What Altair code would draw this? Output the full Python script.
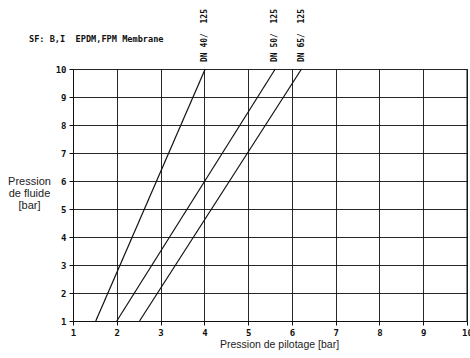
import altair as alt
import pandas as pd

NB = "\u00a0"
series = ["DN 40/  125", "DN 50/  125", "DN 65/  125"]
pilot_start = [1.52, 2.0, 2.52]
pilot_end = [4.02, 5.62, 6.22]
fluid_start = [1, 1, 1]
fluid_end = [10, 10, 10]
ticks = [1, 2, 3, 4, 5, 6, 7, 8, 9, 10]
title_text = "SF: B,I  EPDM,FPM Membrane"

rows = []
for s, x0, x1, y0, y1 in zip(series, pilot_start, pilot_end, fluid_start, fluid_end):
    rows.append({"serie": s, "pilot": x0, "fluid": y0})
    rows.append({"serie": s, "pilot": x1, "fluid": y1})
df = pd.DataFrame(rows)
lab = pd.DataFrame({"serie": [s.replace(" ", NB) for s in series],
                    "pilot": pilot_end, "fluid": fluid_end})

mono = "DejaVu Sans Mono"
sans = "Liberation Sans"

xscale = alt.Scale(domain=[1, 10], nice=False, zero=False)
yscale = alt.Scale(domain=[1, 10], nice=False, zero=False)

common = dict(values=ticks, tickCount=10, grid=True, labelOverlap=False,
              labelFont=mono, labelFontWeight="bold", labelFontSize=9, labelColor="#111",
              labelPadding=3, tickSize=4, tickColor="#111", domainColor="#111",
              gridColor="#111", gridOpacity=0.9, gridWidth=1,
              titleFont=sans, titleFontWeight="normal", titleColor="#222")

xaxis = alt.Axis(title="Pression de pilotage [bar]", titleFontSize=10.5,
                 titleX=206, titleY=23, titleAlign="center", titleBaseline="middle",
                 labelFlush=False, **common)
yaxis = alt.Axis(title=["Pression", "de fluide", "[bar]"], titleFontSize=11,
                 titleAngle=0, titleAlign="center", titleBaseline="top",
                 titleX=-44, titleY=106, titleLineHeight=12, **common)

base = alt.Chart(df)
lines = base.mark_line(color="#111", strokeWidth=1.2).encode(
    x=alt.X("pilot:Q", scale=xscale, axis=xaxis),
    y=alt.Y("fluid:Q", scale=yscale, axis=yaxis),
    detail="serie:N",
)
labels = alt.Chart(lab).mark_text(angle=270, align="left", baseline="middle", dx=7,
                                  font=mono, fontWeight="bold", fontSize=8, color="#111").encode(
    x=alt.X("pilot:Q", scale=xscale),
    y=alt.Y("fluid:Q", scale=yscale),
    text="serie:N",
)
top_title = alt.Chart(pd.DataFrame({"t": [title_text.replace(" ", NB)]})).mark_text(
    align="left", baseline="middle", font=mono, fontWeight="bold", fontSize=8.6, color="#111"
).encode(x=alt.value(-44), y=alt.value(-30), text="t:N")
border = alt.Chart(pd.DataFrame({"a": [0]})).mark_rule(color="#111").encode(
    x=alt.value(394), y=alt.value(0), y2=alt.value(252))

chart = alt.layer(lines, labels, top_title, border).properties(
    width=394, height=252,
    autosize=alt.AutoSizeParams(type="none"),
    padding={"left": 73, "top": 69, "right": 3, "bottom": 37},
).configure_view(stroke="#111", strokeWidth=1).configure(background="white")

chart.save("out.html", embed_options={"renderer": "svg", "actions": False})
